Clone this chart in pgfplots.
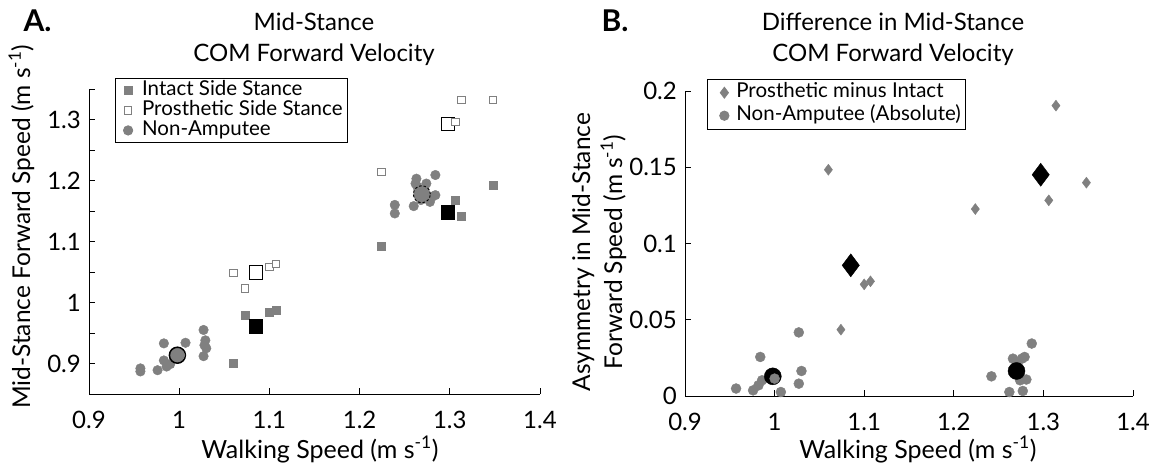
\documentclass[border=0pt]{standalone}
\usepackage{fontspec}
\setmainfont{Lato}
\usepackage{pgfplots}
\pgfplotsset{compat=1.18}
\definecolor{mk}{RGB}{128,128,128}
\newcommand{\unit}{(m s\textsuperscript{-1})}
\pgfplotsset{
  panel/.style={
    scale only axis, width=451pt, height=305pt,
    xmin=0.9, xmax=1.4, xtick={0.9,1.0,1.1,1.2,1.3,1.4},
    axis x line*=bottom, axis y line*=left,
    tick align=inside, major tick length=6pt, minor tick length=6pt,
    tick style={black, line width=0.8pt},
    axis line style={black, line width=0.8pt},
    ticklabel style={font=\fontsize{24}{26}\selectfont},
    /pgf/number format/assume math mode=true,
    /pgf/number format/fixed, /pgf/number format/precision=2,
    scaled ticks=false,
    xticklabel style={inner sep=0pt, yshift=-17pt},
    yticklabel style={inner sep=0pt, xshift=-8pt},
    clip=false,
    legend cell align=left,
  },
}
\begin{document}
\begin{tikzpicture}[x=1pt,y=1pt]
\path[use as bounding box] (0,0) rectangle (1165,467);

% ---------------- Panel A ----------------
\begin{axis}[panel, at={(89pt,73pt)},
  ymin=0.85, ymax=1.35, ytick={0.9,1.0,1.1,1.2,1.3},
  minor ytick={0.95,1.05,1.15,1.25,1.35},
  legend style={at={(0.057,1.036)}, anchor=north west, draw=black, line width=0.8pt,
    fill=white, font=\fontsize{20.5}{21}\selectfont, inner xsep=3pt, inner ysep=2pt,
    nodes={text height=13pt, text depth=3pt, inner ysep=2pt}},
  legend image code/.code={\path[draw=none,fill=none] (-10pt,-4pt) rectangle (12pt,4pt); \draw[#1] plot coordinates {(0pt,0pt)};},
]
\addlegendimage{only marks, mark=square*, mark size=4pt, mark options={fill=mk, draw=mk}}
\addlegendentry{Intact Side Stance}
\addlegendimage{only marks, mark=square*, mark size=3.7pt, mark options={fill=white, draw=mk, line width=0.8pt}}
\addlegendentry{Prosthetic Side Stance}
\addlegendimage{only marks, mark=*, mark size=4.7pt, mark options={fill=mk, draw=mk}}
\addlegendentry{Non-Amputee}

% non-amputee
\addplot[forget plot, only marks, mark=*, mark size=4.8pt, mark options={fill=mk, draw=mk}] coordinates {
(0.957,0.892) (0.957,0.887) (0.976,0.889) (0.983,0.905) (0.986,0.895) (0.990,0.899)
(0.983,0.933) (1.007,0.934) (1.027,0.955) (1.029,0.938) (1.030,0.925) (1.027,0.912) (1.028,0.930)
(1.239,1.160) (1.239,1.146) (1.260,1.158) (1.263,1.203) (1.284,1.209) (1.274,1.195)
(1.280,1.173) (1.284,1.176) (1.278,1.165) (1.264,1.190) (1.268,1.168) (1.272,1.185)
(1.262,1.195) (1.270,1.180)};
% non-amputee means
\addplot[forget plot, only marks, mark=*, mark size=8pt, mark options={fill=mk, draw=black, line width=1.5pt}] coordinates {(0.998,0.9136)};
\addplot[forget plot, only marks, mark=*, mark size=4.8pt, mark options={fill=mk, draw=mk}] coordinates {(1.001,0.9136)};
\addplot[forget plot, only marks, mark=*, mark size=8.5pt, mark options={fill=mk, draw=black, line width=0.9pt, dash pattern=on 2.5pt off 2pt}] coordinates {(1.269,1.1775)};
% intact
\addplot[forget plot, only marks, mark=square*, mark size=4pt, mark options={fill=mk, draw=mk}] coordinates {
(1.060,0.900) (1.073,0.980) (1.100,0.984) (1.107,0.987) (1.224,1.092) (1.306,1.168) (1.313,1.142) (1.348,1.192)};
% intact means
\addplot[forget plot, only marks, mark=square*, mark size=6.7pt, mark options={fill=black, draw=black}] coordinates {(1.085,0.961) (1.298,1.148)};
% prosthetic means
\addplot[forget plot, only marks, mark=square*, mark size=6.7pt, mark options={fill=white, draw=black, line width=0.9pt}] coordinates {(1.085,1.049) (1.298,1.293)};
% prosthetic
\addplot[forget plot, only marks, mark=square*, mark size=3.7pt, mark options={fill=white, draw=mk, line width=0.8pt}] coordinates {
(1.060,1.049) (1.073,1.023) (1.100,1.058) (1.107,1.063) (1.224,1.214) (1.306,1.296) (1.313,1.332) (1.348,1.332)};
\end{axis}

% ---------------- Panel B ----------------
\begin{axis}[panel, at={(685pt,71pt)}, width=448pt,
  ymin=0, ymax=0.2, ytick={0,0.05,0.1,0.15,0.2},
  legend style={at={(0.049,1.04)}, anchor=north west, draw=black, line width=0.8pt,
    fill=white, font=\fontsize{20.5}{22}\selectfont, inner xsep=3pt, inner ysep=2pt,
    nodes={text height=14pt, text depth=4pt, inner ysep=2.5pt}},
  legend image code/.code={\path[draw=none,fill=none] (-14pt,-4pt) rectangle (10pt,4pt); \draw[#1] plot coordinates {(0pt,0pt)};},
]
\addlegendimage{only marks, mark=diamond*, mark size=5.5pt, mark options={fill=mk, draw=mk}}
\addlegendentry{Prosthetic minus Intact}
\addlegendimage{only marks, mark=*, mark size=4.7pt, mark options={fill=mk, draw=mk}}
\addlegendentry{Non-Amputee (Absolute)}

\addplot[forget plot, only marks, mark=diamond*, mark size=5.5pt, mark options={fill=mk, draw=mk}] coordinates {
(1.060,0.1484) (1.074,0.0435) (1.100,0.0732) (1.107,0.0752) (1.224,0.1226) (1.306,0.1283) (1.314,0.1904) (1.348,0.1399)};
\addplot[forget plot, only marks, mark=diamond*, mark size=11.5pt, mark options={fill=black, draw=black}] coordinates {
(1.085,0.0857) (1.297,0.1451)};
\addplot[forget plot, only marks, mark=*, mark size=5pt, mark options={fill=mk, draw=mk}] coordinates {
(0.957,0.0049) (0.976,0.0037) (0.982,0.0070) (0.984,0.0256) (0.986,0.0103) (1.007,0.0026)
(1.027,0.0417) (1.027,0.0081) (1.030,0.0164)
(1.242,0.0129) (1.262,0.0026) (1.266,0.0245) (1.279,0.0256) (1.287,0.0344) (1.274,0.0103)
(1.281,0.0108) (1.277,0.0033) (1.270,0.0220) (1.276,0.0245)};
\addplot[forget plot, only marks, mark=*, mark size=8.5pt, mark options={fill=black, draw=black}] coordinates {
(0.998,0.0129) (1.270,0.0164)};
\addplot[forget plot, only marks, mark=*, mark size=5pt, mark options={fill=mk, draw=mk}] coordinates {(1.000,0.0114)};
\end{axis}

% ---------------- Text ----------------
\node[anchor=base west, font=\fontsize{30}{32}\selectfont\bfseries] at (20,435) {A.};
\node[anchor=base west, font=\fontsize{30}{32}\selectfont\bfseries] at (598,435) {B.};
\node[anchor=base, font=\fontsize{24}{26}\selectfont] at (314,436) {Mid-Stance};
\node[anchor=base, font=\fontsize{24}{26}\selectfont] at (314,405) {COM Forward Velocity};
\node[anchor=base, font=\fontsize{24}{26}\selectfont] at (893,436) {Difference in Mid-Stance};
\node[anchor=base, font=\fontsize{24}{26}\selectfont] at (893,405) {COM Forward Velocity};
\node[anchor=base, font=\fontsize{25}{27}\selectfont] at (320,9) {Walking Speed \unit};
\node[anchor=base, font=\fontsize{25}{27}\selectfont] at (918,9) {Walking Speed \unit};
\node[rotate=90, anchor=base, font=\fontsize{24.5}{26}\selectfont] at (30,240) {Mid-Stance Forward Speed \unit};
\node[rotate=90, anchor=base, font=\fontsize{24.5}{26}\selectfont] at (590,215) {Asymmetry in Mid-Stance};
\node[rotate=90, anchor=base, font=\fontsize{24.5}{26}\selectfont] at (622,215) {Forward Speed \unit};
\end{tikzpicture}
\end{document}
